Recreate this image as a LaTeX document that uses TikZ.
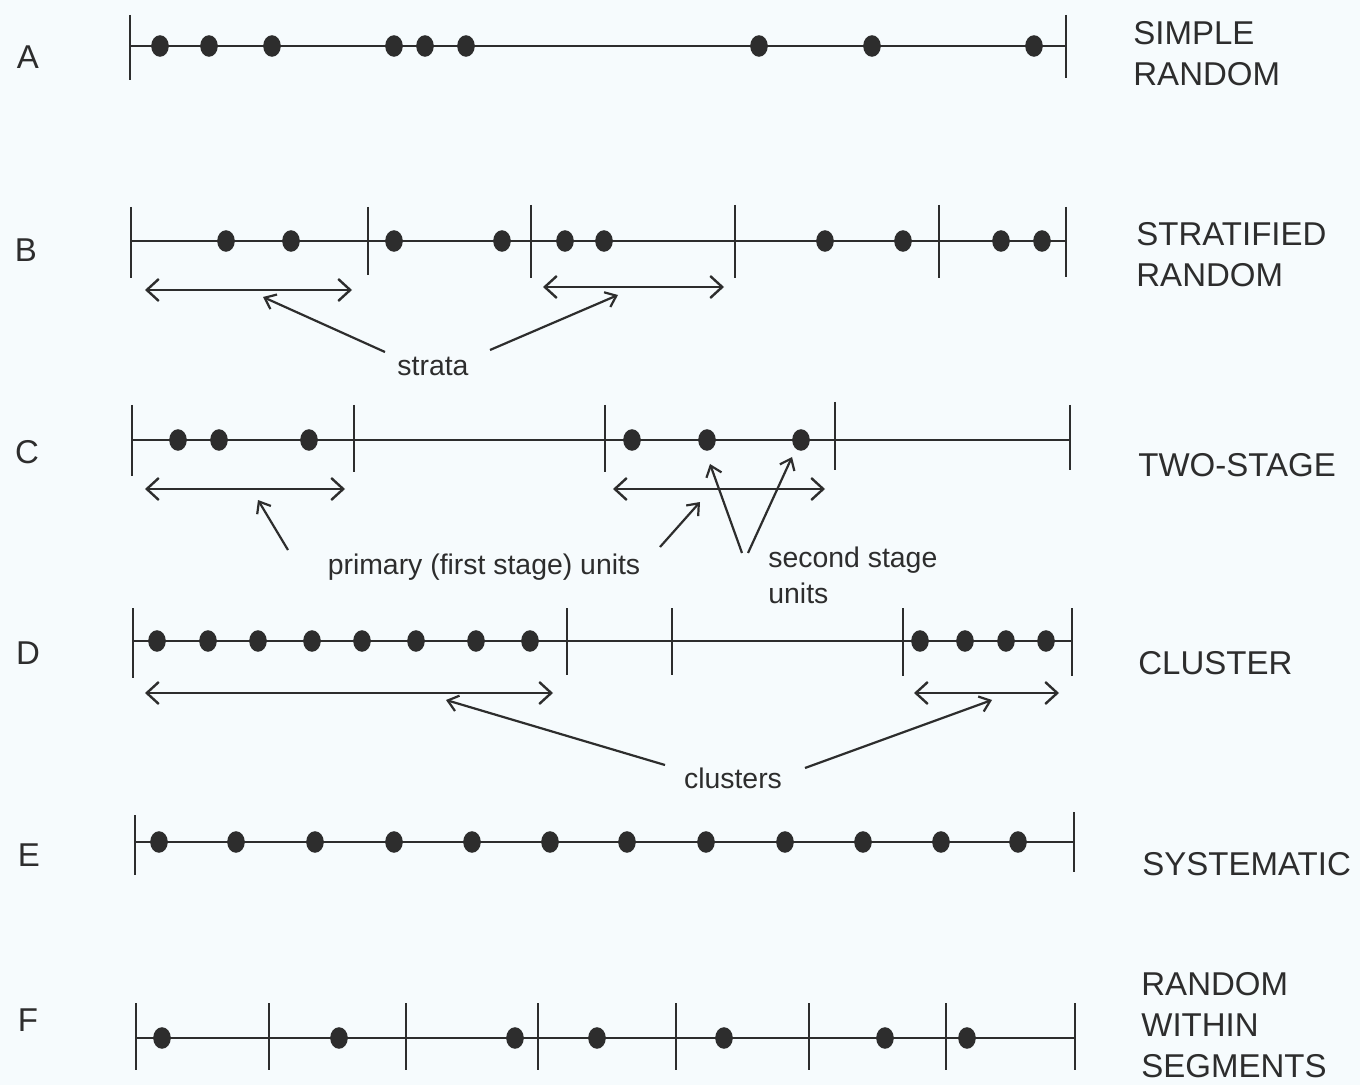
\documentclass[tikz,border=0pt]{standalone}
\usepackage{fontspec}
\setmainfont{Liberation Sans}
\usetikzlibrary{arrows.meta,shapes.geometric}
\definecolor{ink}{RGB}{45,45,45}
\definecolor{paper}{RGB}{246,251,253}
\begin{document}
\begin{tikzpicture}[x=0.5pt,y=-0.5pt,
  axis/.style={draw=ink, line width=1.3pt},
  tickline/.style={draw=ink, line width=0.8pt},
  dot/.style={ellipse, fill=ink, inner sep=0pt, minimum width=8.8pt, minimum height=10.8pt},
  span/.style={draw=ink, line width=1.2pt, {Straight Barb[length=6pt,width=11pt]}-{Straight Barb[length=6pt,width=11pt]}},
  pointer/.style={draw=ink, line width=1.1pt, -{Straight Barb[length=5pt,width=8pt]}},
  rowlabel/.style={font=\fontsize{16.5}{20}\selectfont, text=ink, inner sep=0pt},
  method/.style={font=\fontsize{16.5}{20.5}\selectfont, text=ink, inner sep=0pt, anchor=west, align=left},
  note/.style={font=\fontsize{14.2}{18}\selectfont, text=ink, inner sep=0pt}]
\fill[paper] (0,0) rectangle (1360,1085);
\useasboundingbox (0,0) rectangle (1360,1085);

% ---------- Row A ----------
\node[rowlabel] (lA) at (28,57) {A};
\node[method] (mA) at (1133,54) {SIMPLE\\RANDOM};
\coordinate (A-l) at (130,46); \coordinate (A-r) at (1066,46);
\draw[axis] (A-l) -- (A-r);
\foreach \x/\t/\b in {130/15/80,1066/15/78} \draw[tickline] (\x,\t) -- (\x,\b);
\foreach \x [count=\i] in {160,209,272,394,425,466,759,872,1034}
  \node[dot] (a\i) at (\x,46) {};

% ---------- Row B ----------
\node[rowlabel] (lB) at (26,250) {B};
\node[method] (mB) at (1136,255) {STRATIFIED\\RANDOM};
\coordinate (B-l) at (131,241); \coordinate (B-r) at (1066,241);
\draw[axis] (B-l) -- (B-r);
\foreach \x/\t/\b in {131/207/278,368/207/275,531/205/278,735/205/278,939/205/278,1066/207/277}
  \draw[tickline] (\x,\t) -- (\x,\b);
\foreach \x [count=\i] in {226,291,394,502,565,604,825,903,1001,1042}
  \node[dot] (b\i) at (\x,241) {};
\coordinate (Bs1l) at (145,290); \coordinate (Bs1r) at (352,290);
\coordinate (Bs2l) at (543,287); \coordinate (Bs2r) at (724,287);
\draw[span] (Bs1l) -- (Bs1r);
\draw[span] (Bs2l) -- (Bs2r);
\node[note, anchor=base] (strata) at (433,376) {strata};
\coordinate (Bp1s) at (385,352); \coordinate (Bp1e) at (263,297);
\coordinate (Bp2s) at (490,350); \coordinate (Bp2e) at (618,295);
\draw[pointer] (Bp1s) -- (Bp1e);
\draw[pointer] (Bp2s) -- (Bp2e);

% ---------- Row C ----------
\node[rowlabel] (lC) at (27,452) {C};
\node[method] (mC) at (1138,465) {TWO-STAGE};
\coordinate (C-l) at (132,440); \coordinate (C-r) at (1070,440);
\draw[axis] (C-l) -- (C-r);
\foreach \x/\t/\b in {132/405/476,354/405/472,605/405/472,835/402/470,1070/405/470}
  \draw[tickline] (\x,\t) -- (\x,\b);
\foreach \x [count=\i] in {178,219,309,632,707,801}
  \node[dot] (c\i) at (\x,440) {};
\coordinate (Cs1l) at (145,489); \coordinate (Cs1r) at (345,489);
\coordinate (Cs2l) at (613,489); \coordinate (Cs2r) at (825,489);
\draw[span] (Cs1l) -- (Cs1r);
\draw[span] (Cs2l) -- (Cs2r);
\node[note, anchor=base] (primary) at (484,574) {primary (first stage) units};
\node[note, anchor=west, align=left] (second) at (768,575) {second stage\\units};
\coordinate (Cp1s) at (288,550); \coordinate (Cp1e) at (258,500);
\coordinate (Cp2s) at (660,547); \coordinate (Cp2e) at (700,502);
\coordinate (Cq1s) at (742,553); \coordinate (Cq1e) at (710,464);
\coordinate (Cq2s) at (748,553); \coordinate (Cq2e) at (792,457);
\draw[pointer] (Cp1s) -- (Cp1e);
\draw[pointer] (Cp2s) -- (Cp2e);
\draw[pointer] (Cq1s) -- (Cq1e);
\draw[pointer] (Cq2s) -- (Cq2e);

% ---------- Row D ----------
\node[rowlabel] (lD) at (28,653) {D};
\node[method] (mD) at (1138,663) {CLUSTER};
\coordinate (D-l) at (133,641); \coordinate (D-r) at (1072,641);
\draw[axis] (D-l) -- (D-r);
\foreach \x/\t/\b in {133/608/678,567/608/675,672/608/675,903/608/676,1072/608/676}
  \draw[tickline] (\x,\t) -- (\x,\b);
\foreach \x [count=\i] in {157,208,258,312,362,416,476,530,920,965,1006,1046}
  \node[dot] (d\i) at (\x,641) {};
\coordinate (Ds1l) at (145,693); \coordinate (Ds1r) at (553,693);
\coordinate (Ds2l) at (914,693); \coordinate (Ds2r) at (1059,693);
\draw[span] (Ds1l) -- (Ds1r);
\draw[span] (Ds2l) -- (Ds2r);
\node[note, anchor=base] (clusters) at (733,788) {clusters};
\coordinate (Dp1s) at (665,765); \coordinate (Dp1e) at (446,700);
\coordinate (Dp2s) at (805,768); \coordinate (Dp2e) at (992,700);
\draw[pointer] (Dp1s) -- (Dp1e);
\draw[pointer] (Dp2s) -- (Dp2e);

% ---------- Row E ----------
\node[rowlabel] (lE) at (29,855) {E};
\node[method] (mE) at (1142,864) {SYSTEMATIC};
\coordinate (E-l) at (135,842); \coordinate (E-r) at (1074,842);
\draw[axis] (E-l) -- (E-r);
\foreach \x/\t/\b in {135/815/875,1074/812/872}
  \draw[tickline] (\x,\t) -- (\x,\b);
\foreach \x [count=\i] in {159,236,315,394,472,550,627,706,785,863,941,1018}
  \node[dot] (e\i) at (\x,842) {};

% ---------- Row F ----------
\node[rowlabel] (lF) at (28,1020) {F};
\node[method] (mF) at (1141,1025) {RANDOM\\WITHIN\\SEGMENTS};
\coordinate (F-l) at (136,1038); \coordinate (F-r) at (1075,1038);
\draw[axis] (F-l) -- (F-r);
\foreach \x in {136,269,406,538,676,809,946,1075}
  \draw[tickline] (\x,1003) -- (\x,1070);
\foreach \x [count=\i] in {162,339,515,597,724,885,967}
  \node[dot] (f\i) at (\x,1038) {};
\end{tikzpicture}
\end{document}
